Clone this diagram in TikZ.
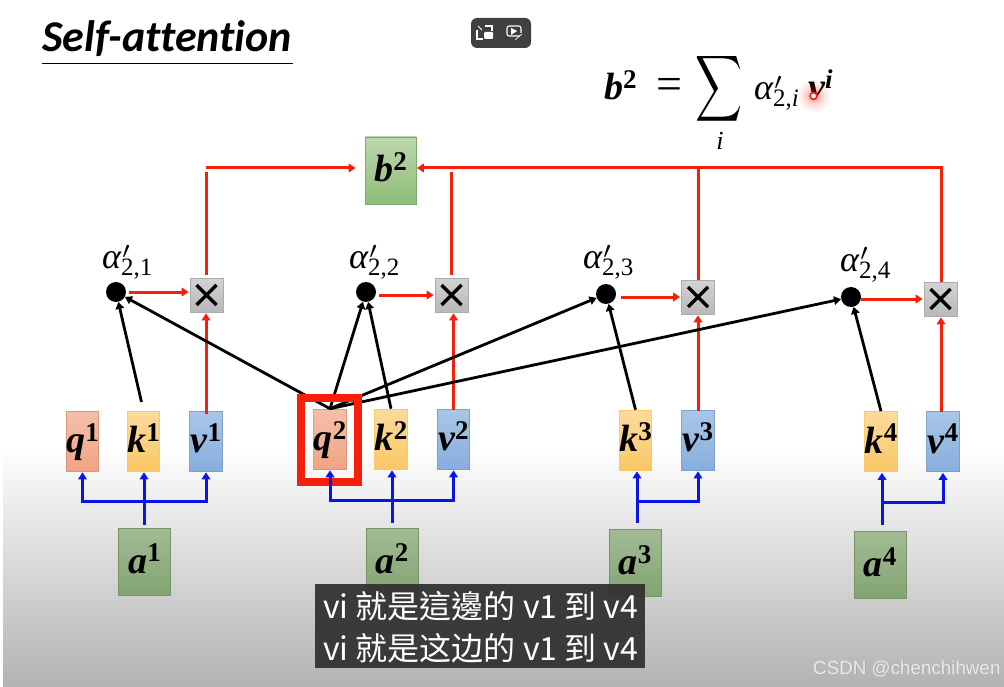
\documentclass[tikz,border=0pt]{standalone}
\usepackage{fontspec}
\usepackage{graphicx}
\setmainfont{Liberation Serif}
\newfontfamily\titlefont[Ligatures=NoCommon]{Carlito}
\newfontfamily\cjkfont{Noto Sans CJK TC}
\newfontfamily\cjkfontsc{Noto Sans CJK SC}
\newfontfamily\wmfont{Liberation Sans}
\usetikzlibrary{arrows.meta,calc}
\definecolor{redline}{HTML}{F5200A}
\definecolor{blueline}{HTML}{0A14E6}
\newcommand{\vecpart}[2]{{\fontsize{38}{38}\bfseries\itshape #1}\raisebox{11.5pt}{\fontsize{27}{27}\bfseries #2}}
\newcommand{\boxlab}[2]{\makebox[0pt]{\raisebox{-11.5pt}[0pt][0pt]{\vecpart{#1}{#2}}}}
\newcommand{\primemark}{\rlap{\raisebox{10pt}{\kern1pt\scalebox{3.4}{$\scriptstyle\prime$}}}}
\newcommand{\alphalab}[1]{{\fontsize{36}{36}\itshape\selectfont α}\primemark\raisebox{-7pt}{\fontsize{25}{25}\selectfont 2,\textit{#1}}}
\newcommand{\alphanum}[1]{{\fontsize{36}{36}\itshape\selectfont α}\primemark\raisebox{-7pt}{\fontsize{25}{25}\selectfont 2,#1}}
\tikzset{
 vecbox/.style={rectangle,inner sep=0pt,minimum width=32.5pt,minimum height=60pt,draw opacity=.9,line width=.6pt},
 qstyle/.style={vecbox,draw=qc!90!black,top color=qc!70!white,bottom color=qc},
 kstyle/.style={vecbox,draw=kc,top color=kc!65!white,bottom color=kc},
 vstyle/.style={vecbox,draw=vc!90!black,top color=vc!70!white,bottom color=vc},
 astyle/.style={rectangle,inner sep=0pt,minimum width=52pt,minimum height=67pt,draw=ac!90!black,line width=.6pt,top color=ac!75!white,bottom color=ac},
 bstyle/.style={rectangle,inner sep=0pt,minimum width=51pt,minimum height=67pt,draw=bc!90!black,line width=.6pt,top color=bc!60!white,bottom color=bc},
 xstyle/.style={rectangle,inner sep=0pt,minimum width=33pt,minimum height=34pt,draw=gray!65,line width=.6pt,top color=gray!35,bottom color=gray!55},
 dotstyle/.style={circle,fill=black,inner sep=0pt,minimum size=20pt},
 redarr/.style={draw=redline,line width=3pt,-{Triangle[length=7pt,width=8.5pt]}},
 redln/.style={draw=redline,line width=3pt},
 blackarr/.style={draw=black,line width=2.8pt,-{Triangle[length=7pt,width=8.5pt]}},
 bluearr/.style={draw=blueline,line width=3pt,-{Triangle[length=7pt,width=8.5pt]}},
 blueln/.style={draw=blueline,line width=3pt},
 subline/.style={text=white,inner sep=0pt,anchor=base west}
}
\definecolor{qc}{HTML}{F0A484}
\definecolor{kc}{HTML}{FBC766}
\definecolor{vc}{HTML}{86AEDD}
\definecolor{ac}{HTML}{83A471}
\definecolor{bc}{HTML}{8FBC78}
\begin{document}
\begin{tikzpicture}[x=1pt,y=-1pt]
\useasboundingbox (0,0) rectangle (1004,687);
\fill[white] (0,0) rectangle (1004,687);
\shade[top color=white,bottom color=black!30] (3,445) rectangle (1004,687);

% title
\node[anchor=base west,inner sep=0pt,font=\titlefont\bfseries\itshape\fontsize{44}{44}\selectfont] (title) at (42,52) {Self-attention};
\draw[line width=1pt] (42,63.5) -- (292.5,63.5);

% player buttons
\fill[black!75,rounded corners=6pt] (471,18) rectangle (531,48);
\draw[white,line width=1.1pt] (477,30) -- (477,39) -- (483,39) (485,26) -- (492,26) -- (492,31);
\fill[white,rounded corners=1pt] (484,32) rectangle (493,39);
\draw[white,line width=.9pt] (478,26) -- (482,30);
\draw[white,line width=1.1pt,rounded corners=2pt] (520,36) -- (507,36) -- (507,26) -- (521,26) -- (521,33);
\fill[white] (511,28) -- (517,31) -- (511,35) -- cycle;
\draw[white,line width=.7pt] (515,40) -- (522,34);

% formula
\node[anchor=base west,inner sep=0pt] (lhs) at (604,100) {\vecpart{b}{2}};
\node[inner sep=0pt,font=\fontsize{46}{46}\selectfont] (eq) at (669,89) {=};
\node[inner sep=0pt] (sum) at (718.5,89) {\resizebox*{47pt}{74pt}{$\displaystyle\sum$}};
\node[inner sep=0pt,font=\fontsize{26}{26}\itshape\selectfont] (sumi) at (720,141) {i};
\node[anchor=base west,inner sep=0pt] (alphai) at (754,100) {\alphalab{i}};
\node[anchor=base west,inner sep=0pt] (vi) at (808,100) {\fontsize{38}{38}\bfseries\itshape v\raisebox{11.5pt}{\fontsize{27}{27}\selectfont i}};

% pointer
\foreach \r/\o in {16/.05,13/.06,10/.08,7/.12}{\fill[redline,opacity=\o] (814,96) circle (\r pt);}
\draw[redline,line width=1.6pt,fill=white] (813.5,96) circle (3.4pt);

% product boxes
\node[xstyle] (x1) at (206.5,295) {};
\node[xstyle] (x2) at (451.5,295) {};
\node[xstyle] (x3) at (698,297) {};
\node[xstyle] (x4) at (940.5,299) {};
\foreach \n in {x1,x2,x3,x4}{
 \draw[line width=3.2pt] ($(\n.center)+(-10,-10)$) -- ($(\n.center)+(10,10)$) ($(\n.center)+(-10,10)$) -- ($(\n.center)+(10,-10)$);
}

% dots and labels
\node[dotstyle] (d1) at (116,292) {};
\node[dotstyle] (d2) at (366,292) {};
\node[dotstyle] (d3) at (606,294) {};
\node[dotstyle] (d4) at (851,297) {};
\node[anchor=base west,inner sep=0pt] (l1) at (102,269) {\alphanum{1}};
\node[anchor=base west,inner sep=0pt] (l2) at (349,269) {\alphanum{2}};
\node[anchor=base west,inner sep=0pt] (l3) at (583,269) {\alphanum{3}};
\node[anchor=base west,inner sep=0pt] (l4) at (840,271) {\alphanum{4}};

% vector boxes
\node[qstyle] (q1) at (82.5,441) {\boxlab{q}{1}};
\node[kstyle] (k1) at (143.5,441) {\boxlab{k}{1}};
\node[vstyle] (v1) at (206,441) {\boxlab{v}{1}};
\node[qstyle] (q2) at (330,439) {\boxlab{q}{2}};
\node[kstyle] (k2) at (391,439) {\boxlab{k}{2}};
\node[vstyle] (v2) at (453.5,439) {\boxlab{v}{2}};
\node[kstyle] (k3) at (635.5,440) {\boxlab{k}{3}};
\node[vstyle] (v3) at (698,440) {\boxlab{v}{3}};
\node[kstyle] (k4) at (881,441.5) {\boxlab{k}{4}};
\node[vstyle] (v4) at (943,441.5) {\boxlab{v}{4}};
\node[astyle] (a1) at (144.5,561.5) {\boxlab{a}{1}};
\node[astyle] (a2) at (392,561.5) {\boxlab{a}{2}};
\node[astyle] (a3) at (635,563) {\boxlab{a}{3}};
\node[astyle] (a4) at (880,565) {\boxlab{a}{4}};
\node[bstyle] (b2) at (390.5,170.5) {\boxlab{b}{2}};

% red: top bus
\coordinate (topL) at (206,168);
\coordinate (topR) at (941,168);
\draw[redarr,shorten >=9pt] (topL) -- (topL -| b2.west);
\draw[redarr,shorten >=0.5pt] (topR) -- (topR -| b2.east);
\draw[redln,shorten <=3pt,shorten >=4pt] (x1.north -| topL) -- (topL);
\draw[redln,shorten <=3pt,shorten >=4pt] (x2.north) -- (x2.north |- topR);
\draw[redln] (x3.north) -- (x3.north |- topR);
\draw[redln,shorten >=-1.5pt] (x4.north -| topR) -- (topR);

% red: alpha to product
\draw[redarr,shorten <=3pt,shorten >=1pt] (d1) -- (x1.west |- d1);
\draw[redarr,shorten <=3pt,shorten >=1pt] (d2 |- x2) ++(10,0) -- (x2.west);
\draw[redarr,shorten <=5pt,shorten >=1pt] (d3 |- x3) ++(10,0) -- (x3.west);
\draw[redarr,shorten >=1pt] (d4 |- x4) ++(10,0) -- (x4.west);

% red: v to product
\draw[redarr,shorten <=-3pt,shorten >=1pt] (v1.north) -- (x1.south -| v1.north);
\draw[redarr,shorten <=-1pt,shorten >=1pt] (v2.north) -- (x2.south -| v2.north);
\draw[redarr,shorten <=-1pt,shorten >=1pt] (v3.north) -- (x3.south);
\draw[redarr,shorten <=-1pt,shorten >=1pt] (v4.north -| topR) -- (x4.south -| topR);

% black
\draw[blackarr,shorten <=9pt] (k1.north) -- (d1);
\draw[blackarr] (q2.north) -- (d1);
\draw[blackarr] (q2.north) -- (d2);
\draw[blackarr] (k2.north) -- (d2);
\draw[blackarr] (q2.north) -- (d3);
\draw[blackarr] (q2.north) -- (d4);
\draw[blackarr] (k3.north) -- (d3);
\draw[blackarr] (k4.north) -- (d4);

% red focus frame
\node[draw=redline,line width=8pt,inner sep=0pt,minimum width=57pt,minimum height=84pt] (focus) at (329.5,440) {};

% blue
\coordinate (br1) at (144,501);
\coordinate (br2) at (392,500);
\coordinate (br3) at (637,501);
\coordinate (br4) at (882,502);
\draw[blueln,shorten <=3pt] (a1.north -| br1) -- (br1);
\draw[bluearr,shorten >=1pt] (br1) -- (br1 |- k1.south);
\draw[bluearr,shorten >=1pt] (br1) -| (q1.south);
\draw[bluearr,shorten >=1pt] (br1) -| (v1.south);
\draw[blueln,shorten <=5pt] (a2.north) -- (br2);
\draw[bluearr,shorten >=1pt] (br2) -- (br2 |- k2.south);
\draw[bluearr,shorten >=1pt] (br2) -| (q2.south);
\draw[bluearr,shorten >=1pt] (br2) -| (v2.south);
\draw[blueln,shorten <=6pt] (a3.north -| br3) -- (br3);
\draw[bluearr,shorten >=1pt] (br3) -- (br3 |- k3.south);
\draw[bluearr,shorten >=1pt] (br3) -| (v3.south);
\draw[blueln,shorten <=6pt] (a4.north -| br4) -- (br4);
\draw[bluearr,shorten >=1pt] (br4) -- (br4 |- k4.south);
\draw[bluearr,shorten >=1pt] (br4) -| (v4.south);

% subtitle
\fill[black!80,fill opacity=.95] (315,584) rectangle (645,668);
\node[subline,font=\cjkfont\fontsize{32}{32}\selectfont] (sub1) at (323,618) {vi 就是這邊的 v1 到 v4};
\node[subline,font=\cjkfontsc\fontsize{32}{32}\selectfont] (sub2) at (323,660) {vi 就是这边的 v1 到 v4};

% watermark
\node[anchor=base west,inner sep=0pt,text=black!35,font=\wmfont\fontsize{18.8}{18.8}\selectfont] at (813.7,674.7) {CSDN @chenchihwen};
\node[anchor=base west,inner sep=0pt,text=white!92!black,font=\wmfont\fontsize{18.8}{18.8}\selectfont] (wm) at (813,674) {CSDN @chenchihwen};
\end{tikzpicture}
\end{document}
